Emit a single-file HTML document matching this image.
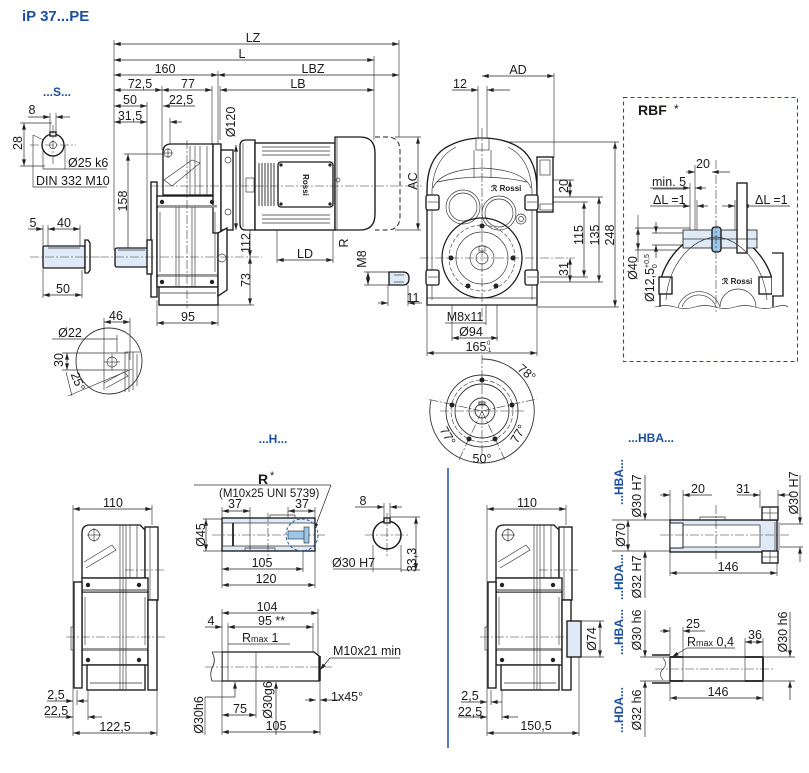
<!DOCTYPE html>
<html><head><meta charset="utf-8"><style>
html,body{margin:0;padding:0;background:#fff;}
svg{display:block;}
text{font-family:"Liberation Sans",Arial,sans-serif;font-size:12.5px;fill:#1a1a1a;}
.bl{fill:#1d4f9e;font-weight:bold;}
.d{stroke:#222;stroke-width:.7;fill:none;}
.b{stroke:#1a1a1a;stroke-width:1.35;fill:#fff;}
.t{stroke:#333;stroke-width:.65;fill:none;}
.c{stroke:#333;stroke-width:.6;fill:none;stroke-dasharray:9 2 2 2;}
.f{fill:#dfeaf6;}
.k{fill:#222;}
.g{fill:#9a9a9a;stroke:none;}
</style></head><body>
<svg width="809" height="773" viewBox="0 0 809 773" xmlns="http://www.w3.org/2000/svg">
<defs><marker id="a" viewBox="0 0 10 6" refX="10" refY="3" markerWidth="7" markerHeight="4" orient="auto-start-reverse" markerUnits="userSpaceOnUse"><path d="M0,0L10,3L0,6z" fill="#222"/></marker></defs>

<text x="22" y="21" class="bl" style="font-size:15px">iP 37...PE</text>
<text x="57" y="96" class="bl" text-anchor="middle" style="font-size:12px">...S...</text>
<text x="273" y="443" class="bl" text-anchor="middle" style="font-size:12px">...H...</text>
<text x="651" y="442" class="bl" text-anchor="middle" style="font-size:12px">...HBA...</text>

<line x1="448" y1="468" x2="448" y2="748" stroke="#1d4f9e" stroke-width="1.5"/>
<rect x="623.5" y="97.5" width="174" height="264" fill="none" stroke="#1d4f9e" stroke-width="1.1" stroke-dasharray="4 3"/>

<g class="d" marker-start="url(#a)" marker-end="url(#a)">
 <line x1="114" y1="44" x2="399" y2="44"/>
 <line x1="114" y1="60" x2="374" y2="60"/>
 <line x1="114" y1="75" x2="218" y2="75"/>
 <line x1="218" y1="75" x2="399" y2="75"/>
 <line x1="114" y1="90" x2="162" y2="90"/>
 <line x1="162" y1="90" x2="212" y2="90"/>
 <line x1="220" y1="90" x2="374" y2="90"/>
 <line x1="114" y1="106" x2="147" y2="106"/>
 <line x1="114" y1="122" x2="147" y2="122"/>
 <line x1="128" y1="154" x2="128" y2="257"/>
 <line x1="236" y1="145" x2="236" y2="230"/>
 <line x1="250" y1="186" x2="250" y2="257"/>
 <line x1="250" y1="257" x2="250" y2="305"/>
 <line x1="157" y1="323" x2="218" y2="323"/>
 <line x1="277" y1="260" x2="333" y2="260"/>
 <line x1="350" y1="163" x2="350" y2="207"/>
 <line x1="418" y1="137" x2="418" y2="230"/>
 <line x1="368" y1="272" x2="368" y2="285"/>
 <line x1="24" y1="123" x2="24" y2="166"/>
 <line x1="48" y1="229" x2="80" y2="229"/>
 <line x1="43" y1="295" x2="82" y2="295"/>
 <line x1="104" y1="322" x2="130" y2="322"/>
 <line x1="67" y1="353" x2="67" y2="370"/>
 <line x1="482" y1="76" x2="554" y2="76"/>
 <line x1="615" y1="142" x2="615" y2="307"/>
 <line x1="599" y1="197" x2="599" y2="282"/>
 <line x1="584" y1="202" x2="584" y2="277"/>
 <line x1="570" y1="180" x2="570" y2="197"/>
 <line x1="570" y1="258" x2="570" y2="282"/>
 <line x1="427" y1="353" x2="537" y2="353"/>
 <line x1="452" y1="338" x2="498" y2="338"/>
 <line x1="638" y1="228" x2="638" y2="250"/>
 <line x1="73" y1="509" x2="152" y2="509"/>
 <line x1="73" y1="733" x2="157" y2="733"/>
 <line x1="222" y1="511" x2="250" y2="511"/>
 <line x1="288" y1="511" x2="315" y2="511"/>
 <line x1="206" y1="519" x2="206" y2="551"/>
 <line x1="222" y1="569" x2="303" y2="569"/>
 <line x1="222" y1="585" x2="315" y2="585"/>
 <line x1="416" y1="517" x2="416" y2="570"/>
 <line x1="222" y1="613" x2="318" y2="613"/>
 <line x1="228" y1="627" x2="313" y2="627"/>
 <line x1="222" y1="715" x2="256" y2="715"/>
 <line x1="222" y1="732" x2="320" y2="732"/>
 <line x1="487" y1="509" x2="566" y2="509"/>
 <line x1="487" y1="733" x2="579" y2="733"/>
 <line x1="600" y1="621" x2="600" y2="657"/>
 <line x1="628" y1="520" x2="628" y2="551"/>
 <line x1="670" y1="573" x2="777" y2="573"/>
 <line x1="745" y1="642" x2="763" y2="642"/>
 <line x1="670" y1="698" x2="763" y2="698"/>
</g>

<g class="d" marker-end="url(#a)">
 <line x1="195" y1="106" x2="163" y2="106"/>
 <line x1="182" y1="122" x2="170" y2="122"/>
 <line x1="452" y1="90" x2="478" y2="90"/>
 <line x1="510" y1="90" x2="487" y2="90"/>
 <line x1="378" y1="303" x2="388" y2="303"/>
 <line x1="422" y1="303" x2="408" y2="303"/>
 <line x1="28" y1="117" x2="50" y2="117"/>
 <line x1="70" y1="117" x2="56" y2="117"/>
 <line x1="28" y1="229" x2="43" y2="229"/>
 <line x1="686" y1="172" x2="695" y2="172"/>
 <line x1="730" y1="172" x2="712" y2="172"/>
 <line x1="650" y1="188" x2="690" y2="188"/>
 <line x1="706" y1="188" x2="695" y2="188"/>
 <line x1="650" y1="206" x2="690" y2="206"/>
 <line x1="708" y1="206" x2="697" y2="206"/>
 <line x1="722" y1="206" x2="735" y2="206"/>
 <line x1="790" y1="206" x2="742" y2="206"/>
 <line x1="656" y1="222" x2="656" y2="233"/>
 <line x1="656" y1="258" x2="656" y2="245"/>
 <line x1="47" y1="701" x2="73" y2="701"/>
 <line x1="88" y1="701" x2="77" y2="701"/>
 <line x1="45" y1="717" x2="73" y2="717"/>
 <line x1="102" y1="717" x2="88" y2="717"/>
 <line x1="461" y1="702" x2="487" y2="702"/>
 <line x1="502" y1="702" x2="491" y2="702"/>
 <line x1="458" y1="717" x2="487" y2="717"/>
 <line x1="518" y1="717" x2="502" y2="717"/>
 <line x1="355" y1="507" x2="384" y2="507"/>
 <line x1="402" y1="507" x2="390" y2="507"/>
 <line x1="205" y1="627" x2="222" y2="627"/>
 <line x1="305" y1="700" x2="316" y2="700"/>
 <line x1="340" y1="700" x2="320" y2="700"/>
 <line x1="235" y1="697" x2="235" y2="682"/>
 <line x1="276" y1="735" x2="276" y2="682"/>
 <line x1="660" y1="495" x2="670" y2="495"/>
 <line x1="712" y1="495" x2="683" y2="495"/>
 <line x1="737" y1="495" x2="760" y2="495"/>
 <line x1="792" y1="495" x2="778" y2="495"/>
 <line x1="660" y1="631" x2="670" y2="631"/>
 <line x1="705" y1="631" x2="683" y2="631"/>
 <line x1="645" y1="475" x2="645" y2="520"/>
 <line x1="645" y1="598" x2="645" y2="551"/>
 <line x1="800" y1="475" x2="800" y2="524"/>
 <line x1="800" y1="562" x2="800" y2="547"/>
 <line x1="645" y1="610" x2="645" y2="657"/>
 <line x1="645" y1="737" x2="645" y2="681"/>
 <line x1="790" y1="612" x2="790" y2="657"/>
 <line x1="790" y1="700" x2="790" y2="681"/>
 <line x1="687" y1="648" x2="672" y2="657"/>
 <line x1="331" y1="485" x2="314" y2="530"/>
 <line x1="330" y1="658" x2="320" y2="670"/>
</g>

<g class="t">
 <line x1="114" y1="40" x2="114" y2="250"/>
 <line x1="399" y1="40" x2="399" y2="137"/>
 <line x1="374" y1="56" x2="374" y2="140"/>
 <line x1="218" y1="71" x2="218" y2="145"/>
 <line x1="212" y1="86" x2="212" y2="145"/>
 <line x1="220" y1="86" x2="220" y2="140"/>
 <line x1="147" y1="102" x2="147" y2="250"/>
 <line x1="162" y1="86" x2="162" y2="150"/>
 <line x1="170" y1="118" x2="170" y2="155"/>
 <line x1="124" y1="154" x2="165" y2="154"/>
 <line x1="218" y1="305" x2="254" y2="305"/>
 <line x1="157" y1="300" x2="157" y2="326"/>
 <line x1="218" y1="300" x2="218" y2="326"/>
 <line x1="277" y1="208" x2="277" y2="263"/>
 <line x1="333" y1="205" x2="333" y2="263"/>
 <line x1="335" y1="163" x2="354" y2="163"/>
 <line x1="335" y1="207" x2="354" y2="207"/>
 <line x1="395" y1="137" x2="421" y2="137"/>
 <line x1="395" y1="230" x2="421" y2="230"/>
 <line x1="364" y1="272" x2="390" y2="272"/>
 <line x1="364" y1="285" x2="390" y2="285"/>
 <line x1="388" y1="285" x2="388" y2="306"/>
 <line x1="408" y1="285" x2="408" y2="306"/>
 <line x1="554" y1="73" x2="554" y2="158"/>
 <line x1="478" y1="86" x2="478" y2="178"/>
 <line x1="487" y1="86" x2="487" y2="178"/>
 <line x1="500" y1="142" x2="619" y2="142"/>
 <line x1="537" y1="307" x2="619" y2="307"/>
 <line x1="540" y1="197" x2="603" y2="197"/>
 <line x1="540" y1="202" x2="588" y2="202"/>
 <line x1="540" y1="277" x2="588" y2="277"/>
 <line x1="540" y1="282" x2="603" y2="282"/>
 <line x1="553" y1="180" x2="574" y2="180"/>
 <line x1="427" y1="305" x2="427" y2="356"/>
 <line x1="537" y1="305" x2="537" y2="356"/>
 <line x1="452" y1="258" x2="452" y2="341"/>
 <line x1="486" y1="285" x2="486" y2="325"/>
 <line x1="497" y1="285" x2="497" y2="341"/>
 <line x1="445" y1="323" x2="486" y2="323"/>
 <line x1="50" y1="113" x2="50" y2="136"/>
 <line x1="56" y1="113" x2="56" y2="136"/>
 <line x1="20" y1="123" x2="52" y2="123"/>
 <line x1="20" y1="166" x2="45" y2="166"/>
 <line x1="43" y1="145" x2="43" y2="169"/>
 <line x1="65" y1="145" x2="65" y2="169"/>
 <line x1="43" y1="169" x2="107" y2="169"/>
 <line x1="33" y1="135" x2="33" y2="187"/>
 <line x1="33" y1="187" x2="107" y2="187"/>
 <line x1="33" y1="135" x2="50" y2="143"/>
 <line x1="43" y1="225" x2="43" y2="298"/>
 <line x1="48" y1="225" x2="48" y2="248"/>
 <line x1="80" y1="225" x2="80" y2="246"/>
 <line x1="82" y1="270" x2="82" y2="298"/>
 <line x1="104" y1="318" x2="104" y2="390"/>
 <line x1="130" y1="318" x2="130" y2="360"/>
 <line x1="52" y1="339" x2="117" y2="339"/>
 <line x1="117" y1="335" x2="117" y2="352"/>
 <line x1="62" y1="353" x2="128" y2="353"/>
 <line x1="62" y1="370" x2="128" y2="370"/>
 <line x1="66" y1="372" x2="72" y2="396"/>
 <line x1="68" y1="396" x2="132" y2="369"/>
 <line x1="695" y1="165" x2="695" y2="236"/>
 <line x1="690" y1="183" x2="690" y2="262"/>
 <line x1="697" y1="200" x2="697" y2="230"/>
 <line x1="735" y1="200" x2="735" y2="230"/>
 <line x1="635" y1="228" x2="690" y2="228"/>
 <line x1="635" y1="250" x2="690" y2="250"/>
 <line x1="652" y1="233" x2="690" y2="233"/>
 <line x1="652" y1="245" x2="690" y2="245"/>
 <line x1="638" y1="215" x2="638" y2="262"/>
 <line x1="653" y1="189" x2="686" y2="189"/>
 <line x1="73" y1="505" x2="73" y2="736"/>
 <line x1="152" y1="505" x2="152" y2="525"/>
 <line x1="157" y1="690" x2="157" y2="736"/>
 <line x1="77" y1="690" x2="77" y2="705"/>
 <line x1="88" y1="690" x2="88" y2="720"/>
 <line x1="194" y1="485" x2="331" y2="485"/>
 <line x1="222" y1="507" x2="222" y2="588"/>
 <line x1="250" y1="507" x2="250" y2="522"/>
 <line x1="288" y1="507" x2="288" y2="530"/>
 <line x1="315" y1="507" x2="315" y2="588"/>
 <line x1="303" y1="545" x2="303" y2="572"/>
 <line x1="203" y1="519" x2="222" y2="519"/>
 <line x1="203" y1="551" x2="222" y2="551"/>
 <line x1="384" y1="503" x2="384" y2="522"/>
 <line x1="390" y1="503" x2="390" y2="522"/>
 <line x1="333" y1="569" x2="401" y2="569"/>
 <line x1="373" y1="545" x2="373" y2="572"/>
 <line x1="401" y1="545" x2="401" y2="572"/>
 <line x1="390" y1="517" x2="420" y2="517"/>
 <line x1="401" y1="570" x2="420" y2="570"/>
 <line x1="222" y1="609" x2="222" y2="735"/>
 <line x1="318" y1="609" x2="318" y2="655"/>
 <line x1="228" y1="623" x2="228" y2="652"/>
 <line x1="313" y1="623" x2="313" y2="652"/>
 <line x1="228" y1="644" x2="290" y2="644"/>
 <line x1="330" y1="658" x2="400" y2="658"/>
 <line x1="320" y1="681" x2="320" y2="735"/>
 <line x1="256" y1="681" x2="256" y2="718"/>
 <line x1="205" y1="697" x2="205" y2="735"/>
 <line x1="205" y1="697" x2="235" y2="697"/>
 <line x1="487" y1="505" x2="487" y2="736"/>
 <line x1="566" y1="505" x2="566" y2="525"/>
 <line x1="579" y1="657" x2="579" y2="736"/>
 <line x1="491" y1="690" x2="491" y2="705"/>
 <line x1="502" y1="690" x2="502" y2="720"/>
 <line x1="581" y1="621" x2="604" y2="621"/>
 <line x1="581" y1="657" x2="604" y2="657"/>
 <line x1="612" y1="520" x2="670" y2="520"/>
 <line x1="612" y1="551" x2="670" y2="551"/>
 <line x1="780" y1="524" x2="803" y2="524"/>
 <line x1="780" y1="547" x2="803" y2="547"/>
 <line x1="670" y1="490" x2="670" y2="520"/>
 <line x1="683" y1="490" x2="683" y2="522"/>
 <line x1="760" y1="490" x2="760" y2="508"/>
 <line x1="778" y1="490" x2="778" y2="508"/>
 <line x1="670" y1="552" x2="670" y2="576"/>
 <line x1="777" y1="562" x2="777" y2="576"/>
 <line x1="670" y1="627" x2="670" y2="655"/>
 <line x1="683" y1="627" x2="683" y2="657"/>
 <line x1="687" y1="648" x2="735" y2="648"/>
 <line x1="745" y1="638" x2="745" y2="657"/>
 <line x1="763" y1="638" x2="763" y2="657"/>
 <line x1="670" y1="681" x2="670" y2="701"/>
 <line x1="763" y1="681" x2="763" y2="701"/>
 <line x1="640" y1="657" x2="670" y2="657"/>
 <line x1="640" y1="681" x2="670" y2="681"/>
 <line x1="763" y1="657" x2="795" y2="657"/>
 <line x1="763" y1="681" x2="795" y2="681"/>
</g>

<!-- MAIN SIDE VIEW -->
<rect x="115" y="248" width="33" height="19" rx="2" class="b f"/>
<line x1="118" y1="250" x2="145" y2="250" class="t"/>
<g class="b">
 <rect x="151" y="182" width="6" height="115"/>
 <rect x="147" y="240" width="5" height="34"/>
 <path d="M163,195 L163,152 Q163,144 171,144 L213,144 L213,195 Z"/>
 <rect x="157" y="196" width="61" height="11"/>
 <rect x="157" y="207" width="61" height="70"/>
 <rect x="157" y="276" width="61" height="11"/>
 <rect x="159" y="287" width="59" height="18"/>
 <rect x="213" y="144" width="8" height="89"/>
 <rect x="221" y="150" width="12" height="80"/>
 <path d="M218,233 L227,228 L227,290 L218,296 Z"/>
 <path d="M240,146 Q240,140 246,140 L255,140 L255,230 L246,230 Q240,230 240,224 Z"/>
 <rect x="255" y="143" width="80" height="87"/>
 <rect x="278" y="162" width="55" height="45" rx="3"/>
 <path d="M335,137 L360,137 Q375,137 375,153 L375,214 Q375,230 360,230 L335,230 Z"/>
</g>
<rect x="158" y="205" width="59" height="2.5" class="g"/>
<rect x="158" y="274" width="59" height="2.5" class="g"/>
<path d="M375,137 L387,137 Q400,137 400,151 L400,216 Q400,230 387,230 L375,230" fill="none" stroke="#222" stroke-width="1" stroke-dasharray="5 3"/>
<g class="t">
 <circle cx="168" cy="153" r="4"/><line x1="163" y1="153" x2="173" y2="153"/><line x1="168" y1="148" x2="168" y2="158"/>
 <path d="M164,180 L192,160 L200,163 L172,186 Z"/>
 <line x1="190" y1="146" x2="190" y2="195"/><line x1="195" y1="146" x2="195" y2="195"/>
 <line x1="200" y1="146" x2="200" y2="195"/><line x1="207" y1="146" x2="207" y2="195"/>
 <line x1="176" y1="207" x2="176" y2="287"/><line x1="179" y1="207" x2="179" y2="287"/>
 <line x1="192" y1="207" x2="192" y2="287"/><line x1="195" y1="207" x2="195" y2="287"/>
 <line x1="160" y1="293" x2="216" y2="293"/>
 <line x1="160" y1="212" x2="160" y2="272"/><line x1="215" y1="212" x2="215" y2="272"/>
 <line x1="262" y1="147" x2="330" y2="147"/><line x1="262" y1="151" x2="330" y2="151"/>
 <line x1="262" y1="155" x2="330" y2="155"/><line x1="262" y1="215" x2="330" y2="215"/>
 <line x1="262" y1="219" x2="330" y2="219"/><line x1="262" y1="223" x2="330" y2="223"/>
 <line x1="337" y1="137" x2="337" y2="230"/>
 <circle cx="338" cy="180" r="2"/>
 <rect x="246" y="178" width="8" height="14"/>
 <circle cx="228" cy="160" r="3"/><circle cx="228" cy="212" r="3"/>
 <circle cx="222" cy="258" r="4"/>
 <line x1="243" y1="143" x2="243" y2="227"/>
</g>
<g stroke="#222" stroke-width=".9">
 <line x1="259" y1="163" x2="259" y2="206"/><line x1="262" y1="163" x2="262" y2="206"/>
 <line x1="265" y1="163" x2="265" y2="206"/><line x1="268" y1="163" x2="268" y2="206"/>
 <line x1="271" y1="163" x2="271" y2="206"/><line x1="274" y1="163" x2="274" y2="206"/>
</g>
<g class="k">
 <circle cx="162" cy="202" r="2.2"/><circle cx="212" cy="202" r="2.2"/>
 <circle cx="162" cy="282" r="2.2"/><circle cx="212" cy="282" r="2.2"/>
 <circle cx="281" cy="165" r="1.6"/><circle cx="330" cy="165" r="1.6"/>
 <circle cx="281" cy="204" r="1.6"/><circle cx="330" cy="204" r="1.6"/>
</g>
<text x="0" y="0" transform="translate(303,185) rotate(90)" text-anchor="middle" style="font-size:8px;font-weight:bold">Rossi</text>
<path d="M389,272 L403,272 Q409,272 409,278.5 Q409,285 403,285 L389,285 Z" class="b f"/>
<line x1="394" y1="275" x2="404" y2="275" class="t"/><line x1="394" y1="282" x2="404" y2="282" class="t"/>
<g class="c">
 <line x1="100" y1="257" x2="262" y2="257"/>
 <line x1="150" y1="186" x2="422" y2="186"/>
 <line x1="187" y1="140" x2="187" y2="308"/>
</g>

<!-- S shaft -->
<rect x="43" y="246" width="42" height="22" rx="1.5" class="b f"/>
<line x1="48" y1="248" x2="80" y2="248" class="t"/>
<path d="M85,240 L88,240 L90,243 L90,270 L88,273 L85,273 Z" class="b"/>
<line x1="30" y1="257" x2="100" y2="257" class="c"/>
<circle cx="53" cy="145" r="11" class="b"/>
<circle cx="53" cy="145" r="3.5" class="t"/>
<rect x="50" y="132" width="6" height="4" class="b"/>
<line x1="30" y1="145" x2="76" y2="145" class="c"/><line x1="53" y1="125" x2="53" y2="165" class="c"/>

<circle cx="109" cy="361" r="33" class="t" style="stroke-width:.9"/>
<g class="t">
 <circle cx="112" cy="362" r="5"/>
 <line x1="104" y1="362" x2="120" y2="362"/><line x1="112" y1="354" x2="112" y2="370"/>
 <line x1="125" y1="352" x2="125" y2="392"/><line x1="129" y1="352" x2="129" y2="392"/>
 <line x1="133" y1="352" x2="133" y2="390"/><line x1="137" y1="354" x2="137" y2="386"/>
 <path d="M104,383 L124,372 L128,376 L106,388"/>
 <path d="M125,352 L140,352"/>
</g>

<!-- FRONT VIEW -->
<g class="b">
 <path d="M427,305 L427,190 Q427,160 445,148 Q462,138 482,138 Q505,138 520,148 Q537,160 537,190 L537,305 Z"/>
 <rect x="537" y="157" width="16" height="55"/>
</g>
<g class="t">
 <path d="M433,188 Q440,170 482,168 Q524,170 531,188"/>
 <path d="M437,182 Q482,172 527,182"/>
 <path d="M432,190 Q434,158 456,147"/><path d="M532,190 Q530,158 508,147"/>
 <line x1="474" y1="150" x2="474" y2="178"/><line x1="491" y1="150" x2="491" y2="178"/>
 <line x1="432" y1="190" x2="432" y2="300"/><line x1="532" y1="190" x2="532" y2="300"/>
 <line x1="427" y1="298" x2="537" y2="298"/>
 <rect x="476" y="138" width="13" height="12"/>
 <rect x="540" y="160" width="10" height="15"/>
 <rect x="540" y="204" width="13" height="6"/>
 <circle cx="463" cy="207" r="17"/><circle cx="463" cy="207" r="14"/>
 <circle cx="499" cy="213" r="17"/><circle cx="499" cy="213" r="14"/>
 <circle cx="521" cy="219" r="5"/><circle cx="521" cy="219" r="2.5"/>
 <circle cx="482" cy="258" r="26"/>
 <circle cx="482" cy="258" r="12"/>
 <circle cx="482" cy="258" r="6"/>
 <rect x="479" y="246" width="6" height="5"/>
</g>
<circle cx="482" cy="258" r="40" fill="none" stroke="#1a1a1a" stroke-width="1.2"/>
<circle cx="482" cy="258" r="33" fill="none" stroke="#333" stroke-width=".6" stroke-dasharray="4 2"/>
<g class="b">
 <rect x="426" y="195" width="13" height="15" rx="2"/><rect x="426" y="270" width="13" height="15" rx="2"/>
 <rect x="525" y="195" width="13" height="15" rx="2"/><rect x="525" y="270" width="13" height="15" rx="2"/>
</g>
<g class="t">
 <line x1="428" y1="202" x2="438" y2="202"/><line x1="428" y1="277" x2="438" y2="277"/>
 <line x1="527" y1="202" x2="537" y2="202"/><line x1="527" y1="277" x2="537" y2="277"/>
</g>
<g class="k">
 <circle cx="451" cy="258" r="2.5"/><circle cx="513" cy="258" r="2.5"/><circle cx="482" cy="226" r="2.5"/>
 <circle cx="468" cy="286" r="2.5"/><circle cx="496" cy="286" r="2.5"/>
</g>
<text x="491" y="191" style="font-size:8px;font-weight:bold">ℛ Rossi</text>
<g class="c">
 <line x1="420" y1="258" x2="575" y2="258"/>
 <line x1="482" y1="128" x2="482" y2="320"/>
</g>

<!-- FLANGE VIEW -->
<g class="t" style="stroke-width:.9">
 <circle cx="482" cy="411" r="36"/>
 <circle cx="482" cy="411" r="27"/>
 <circle cx="482" cy="411" r="13"/>
 <circle cx="482" cy="411" r="7"/>
 <rect x="479" y="402" width="6" height="3"/>
 <path d="M482,359 A52,52 0 1 1 460,458"/>
 <path d="M431,400 A52,52 0 0 0 460,458"/>
</g>
<circle cx="482" cy="411" r="31" fill="none" stroke="#333" stroke-width=".6" stroke-dasharray="5 2"/>
<g class="c">
 <line x1="440" y1="411" x2="526" y2="411"/>
 <line x1="482" y1="355" x2="482" y2="455"/>
 <line x1="482" y1="411" x2="537" y2="399"/>
 <line x1="482" y1="411" x2="427" y2="399"/>
 <line x1="482" y1="411" x2="458" y2="462"/>
 <line x1="482" y1="411" x2="506" y2="462"/>
</g>
<g class="k">
 <circle cx="482" cy="380" r="2.5"/><circle cx="512" cy="405" r="2.5"/><circle cx="452" cy="405" r="2.5"/>
 <circle cx="469" cy="439" r="2.5"/><circle cx="495" cy="439" r="2.5"/>
</g>

<!-- RBF DETAIL -->
<g class="b">
 <path d="M660,307 L660,285 C663,258 690,231 716,230 C742,231 770,258 773,285 L773,307"/>
 <rect x="683" y="230" width="74" height="18" class="f" style="stroke-width:.8"/>
 <rect x="712" y="227" width="9" height="25" rx="3" fill="#9cc7e8"/>
 <rect x="737" y="183" width="10" height="70"/>
 <rect x="659" y="277" width="13" height="17"/>
 <rect x="759" y="277" width="13" height="17"/>
 <path d="M772,253 L783,253 L783,296 L772,296"/>
</g>
<g class="t">
 <path d="M666,300 C668,265 692,238 716,237 C740,238 764,265 767,300"/>
 <line x1="683" y1="239" x2="757" y2="239"/>
 <path d="M678,307 A22,22 0 0 1 720,307"/>
 <path d="M682,307 A18,18 0 0 1 716,307"/>
 <path d="M720,307 A18,18 0 0 1 756,307"/>
 <path d="M655,307 Q665,304 675,307 T695,307 T715,307 T735,307 T755,307 T775,307 T788,307"/>
</g>
<line x1="716" y1="160" x2="716" y2="312" class="c"/>
<text x="722" y="284" style="font-size:8px;font-weight:bold">ℛ Rossi</text>

<!-- H SIDE VIEW -->
<g id="hb">
 <g class="b">
  <path d="M82,578 L82,533 Q82,525 90,525 L140,525 L145,530 L145,578 Z"/>
  <rect x="145" y="527" width="13" height="73"/>
  <rect x="82" y="578" width="66" height="14"/>
  <rect x="82" y="592" width="66" height="58"/>
  <rect x="82" y="650" width="66" height="15"/>
  <rect x="87" y="665" width="58" height="25"/>
  <rect x="74" y="582" width="8" height="106"/>
  <rect x="148" y="600" width="9" height="90"/>
 </g>
 <rect x="83" y="589" width="64" height="3" class="g"/>
 <rect x="83" y="648" width="64" height="3" class="g"/>
 <g class="t">
  <circle cx="94" cy="535" r="5.5"/><line x1="87" y1="535" x2="101" y2="535"/><line x1="94" y1="528" x2="94" y2="542"/>
  <path d="M84,562 L112,545 L116,550 L86,568"/>
  <line x1="120" y1="525" x2="120" y2="690"/><line x1="123" y1="525" x2="123" y2="690"/><line x1="126" y1="525" x2="126" y2="690"/>
  <line x1="130" y1="525" x2="130" y2="578"/><line x1="137" y1="525" x2="137" y2="578"/>
  <line x1="150" y1="527" x2="150" y2="600"/>
  <line x1="85" y1="597" x2="85" y2="645"/><line x1="145" y1="597" x2="145" y2="645"/>
  <rect x="71" y="627" width="3" height="23"/>
  <line x1="90" y1="683" x2="142" y2="683"/>
 </g>
 <g class="k">
  <circle cx="88" cy="585" r="2.2"/><circle cx="139" cy="585" r="2.2"/>
  <circle cx="88" cy="660" r="2.2"/><circle cx="139" cy="660" r="2.2"/>
 </g>
 <line x1="66" y1="637" x2="165" y2="637" class="c"/>
 <line x1="125" y1="570" x2="165" y2="570" class="c"/>
</g>
<use href="#hb" transform="translate(414,0)"/>
<rect x="567" y="621" width="14" height="36" class="b f"/>

<!-- R view shaft -->
<rect x="222" y="518" width="93" height="33" class="b f"/>
<rect x="224" y="523" width="89" height="23" fill="#fff" stroke="none"/>
<g class="t">
 <line x1="222" y1="523" x2="315" y2="523"/><line x1="222" y1="546" x2="315" y2="546"/>
 <line x1="250" y1="518" x2="250" y2="551"/>
 <path d="M270,518 L270,515 L295,515 L295,518"/>
 <path d="M245,551 L245,548 L275,548 L275,551"/>
</g>
<line x1="233" y1="523" x2="233" y2="546" stroke="#222" stroke-width="1.8"/>
<line x1="268" y1="513" x2="268" y2="556" class="c"/>
<line x1="212" y1="535" x2="325" y2="535" class="c"/>
<rect x="288" y="531" width="20" height="8" fill="#9cc7e8" stroke="#222" stroke-width=".6"/>
<rect x="304" y="527" width="5" height="16" fill="#9cc7e8" stroke="#222" stroke-width=".6"/>
<circle cx="302" cy="535" r="16" fill="none" stroke="#1d4f9e" stroke-width=".9" stroke-dasharray="3 2"/>
<circle cx="387" cy="535" r="14" class="b" style="stroke-width:1.5"/>
<rect x="384" y="518" width="6" height="5" class="b"/>
<line x1="365" y1="535" x2="410" y2="535" class="c"/><line x1="387" y1="513" x2="387" y2="557" class="c"/>

<!-- shaft lower -->
<path d="M222,652 L314,652 L319,656 L319,681 L222,681 Z" class="b"/>
<path d="M212,652 L222,652 L222,681 L212,681 Q209,673 213,666 Q216,660 212,652" fill="#fff" stroke="#222" stroke-width=".8"/>
<line x1="256" y1="652" x2="256" y2="681" class="t"/>
<line x1="228" y1="652" x2="228" y2="681" class="t"/>
<line x1="320" y1="656" x2="320" y2="681" stroke="#222" stroke-width="1.6"/>
<line x1="205" y1="667" x2="332" y2="667" class="c"/>

<!-- HBA top shaft -->
<rect x="670" y="520" width="107" height="32" class="b f"/>
<rect x="683" y="525" width="77" height="22" fill="#fff" stroke="#222" stroke-width=".7"/>
<rect x="670" y="523" width="13" height="25" fill="#fff" stroke="#222" stroke-width="1"/>
<g class="b">
 <rect x="762" y="507" width="16" height="13"/>
 <rect x="762" y="551" width="16" height="12"/>
</g>
<g class="t">
 <line x1="770" y1="507" x2="770" y2="520"/><line x1="762" y1="513" x2="778" y2="513"/>
 <line x1="770" y1="551" x2="770" y2="563"/><line x1="762" y1="557" x2="778" y2="557"/>
 <line x1="775" y1="522" x2="775" y2="550"/><line x1="779" y1="522" x2="779" y2="550"/>
 <path d="M700,520 L700,517 L725,517 L725,520"/>
</g>
<line x1="716" y1="505" x2="716" y2="560" class="c"/>
<line x1="660" y1="535" x2="790" y2="535" class="c"/>

<!-- HBA lower shaft -->
<g stroke="#222" stroke-width="1.6">
 <line x1="652" y1="655" x2="670" y2="655"/><line x1="652" y1="683" x2="670" y2="683"/>
</g>
<path d="M663,658 Q668,664 663,669 Q658,674 663,680" fill="none" stroke="#222" stroke-width=".6"/>
<rect x="670" y="657" width="93" height="24" class="b"/>
<line x1="683" y1="657" x2="683" y2="681" class="t"/>
<line x1="745" y1="657" x2="745" y2="681" class="t"/>
<g stroke="#222" stroke-width="1.8">
 <line x1="670" y1="657" x2="683" y2="657"/><line x1="670" y1="681" x2="683" y2="681"/>
 <line x1="745" y1="657" x2="763" y2="657"/><line x1="745" y1="681" x2="763" y2="681"/>
 <line x1="763" y1="658" x2="763" y2="680"/>
</g>
<line x1="655" y1="669" x2="775" y2="669" class="c"/>

<!-- TEXT -->
<g text-anchor="middle">
 <text x="253" y="42">LZ</text>
 <text x="242" y="58">L</text>
 <text x="165" y="73">160</text>
 <text x="313" y="73">LBZ</text>
 <text x="140" y="88">72,5</text>
 <text x="188" y="88">77</text>
 <text x="298" y="88">LB</text>
 <text x="130" y="104">50</text>
 <text x="181" y="104">22,5</text>
 <text x="130" y="120">31,5</text>
 <text x="32" y="114">8</text>
 <text x="33" y="227">5</text>
 <text x="64" y="227">40</text>
 <text x="63" y="293">50</text>
 <text x="305" y="258">LD</text>
 <text x="413" y="302">11</text>
 <text x="188" y="321">95</text>
 <text x="518" y="74">AD</text>
 <text x="460" y="88">12</text>
 <text x="465" y="321">M8x11</text>
 <text x="471" y="336">Ø94</text>
 <text x="476" y="351">165</text>
 <text x="703" y="168">20</text>
 <text x="116" y="320">46</text>
 <text x="70" y="337">Ø22</text>
 <text x="482" y="463">50°</text>
 <text x="113" y="507">110</text>
 <text x="56" y="699">2,5</text>
 <text x="56" y="715">22,5</text>
 <text x="115" y="731">122,5</text>
 <text x="235" y="508">37</text>
 <text x="302" y="508">37</text>
 <text x="262" y="567">105</text>
 <text x="266" y="583">120</text>
 <text x="363" y="505">8</text>
 <text x="267" y="611">104</text>
 <text x="211" y="625">4</text>
 <text x="240" y="713">75</text>
 <text x="276" y="730">105</text>
 <text x="527" y="507">110</text>
 <text x="470" y="700">2,5</text>
 <text x="470" y="716">22,5</text>
 <text x="536" y="730">150,5</text>
 <text x="698" y="493">20</text>
 <text x="743" y="493">31</text>
 <text x="728" y="571">146</text>
 <text x="693" y="628">25</text>
 <text x="755" y="639">36</text>
 <text x="718" y="696">146</text>
</g>
<text x="487" y="345" style="font-size:6px">0</text>
<text x="486" y="352" style="font-size:6px">-1</text>
<text x="68" y="167">Ø25 k6</text>
<text x="36" y="185">DIN 332 M10</text>
<text x="638" y="115" style="font-size:14px;font-weight:bold">RBF</text>
<text x="674" y="113" style="font-size:12px">*</text>
<text x="652" y="186">min. 5</text>
<text x="653" y="204">ΔL =1</text>
<text x="755" y="204">ΔL =1</text>
<text x="258" y="484" style="font-size:14px;font-weight:bold">R</text>
<text x="270" y="479" style="font-size:11px">*</text>
<text x="219" y="497" style="font-size:11.5px">(M10x25 UNI 5739)</text>
<text x="332" y="567">Ø30 H7</text>
<text x="258" y="625">95 **</text>
<text x="242" y="642">R<tspan style="font-size:9px">max</tspan> 1</text>
<text x="333" y="655">M10x21 min</text>
<text x="331" y="701">1x45°</text>
<text x="687" y="646">R<tspan style="font-size:9px">max</tspan> 0,4</text>

<g text-anchor="middle">
 <text x="235" y="122" transform="rotate(-90 235 122)">Ø120</text>
 <text x="127" y="201" transform="rotate(-90 127 201)">158</text>
 <text x="250" y="243" transform="rotate(-90 250 243)">112</text>
 <text x="250" y="280" transform="rotate(-90 250 280)">73</text>
 <text x="348" y="243" transform="rotate(-90 348 243)">R</text>
 <text x="366" y="259" transform="rotate(-90 366 259)">M8</text>
 <text x="417" y="181" transform="rotate(-90 417 181)">AC</text>
 <text x="22" y="143" transform="rotate(-90 22 143)">28</text>
 <text x="568" y="186" transform="rotate(-90 568 186)">20</text>
 <text x="583" y="235" transform="rotate(-90 583 235)">115</text>
 <text x="599" y="235" transform="rotate(-90 599 235)">135</text>
 <text x="614" y="235" transform="rotate(-90 614 235)">248</text>
 <text x="568" y="269" transform="rotate(-90 568 269)">31</text>
 <text x="63" y="360" transform="rotate(-90 63 360)">30</text>
 <text x="74" y="383" transform="rotate(68 74 383)">25°</text>
 <text x="637" y="268" transform="rotate(-90 637 268)">Ø40</text>
 <text x="205" y="535" transform="rotate(-90 205 535)">Ø45</text>
 <text x="416" y="560" transform="rotate(-90 416 560)">33,3</text>
 <text x="203" y="715" transform="rotate(-90 203 715)">Ø30h6</text>
 <text x="272" y="700" transform="rotate(-90 272 700)">Ø30g6</text>
 <text x="596" y="639" transform="rotate(-90 596 639)">Ø74</text>
 <text x="625" y="535" transform="rotate(-90 625 535)">Ø70</text>
 <text x="641" y="496" transform="rotate(-90 641 496)">Ø30 H7</text>
 <text x="641" y="577" transform="rotate(-90 641 577)">Ø32 H7</text>
 <text x="798" y="493" transform="rotate(-90 798 493)">Ø30 H7</text>
 <text x="641" y="630" transform="rotate(-90 641 630)">Ø30 h6</text>
 <text x="641" y="710" transform="rotate(-90 641 710)">Ø32 h6</text>
 <text x="787" y="632" transform="rotate(-90 787 632)">Ø30 h6</text>
 <text x="524" y="376" transform="rotate(40 524 376)">78°</text>
 <text x="444" y="438" transform="rotate(60 444 438)">77°</text>
 <text x="522" y="436" transform="rotate(-60 522 436)">77°</text>
 <text class="bl" x="623" y="482" transform="rotate(-90 623 482)" style="font-size:12px">...HBA...</text>
 <text class="bl" x="623" y="577" transform="rotate(-90 623 577)" style="font-size:12px">...HDA...</text>
 <text class="bl" x="623" y="632" transform="rotate(-90 623 632)" style="font-size:12px">...HBA...</text>
 <text class="bl" x="623" y="710" transform="rotate(-90 623 710)" style="font-size:12px">...HDA...</text>
</g>
<text x="654" y="302" transform="rotate(-90 654 302)">Ø12,5<tspan dy="-5" style="font-size:7px">+0,5</tspan><tspan dx="-14" dy="8" style="font-size:7px">0</tspan></text>
</svg>
</body></html>
